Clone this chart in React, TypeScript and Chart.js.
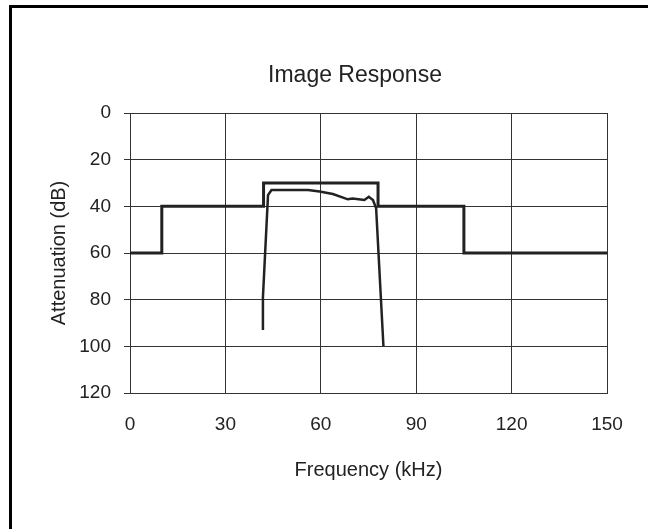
import React, { useEffect, useRef } from "react";
import { Chart, registerables } from "chart.js";

Chart.register(...registerables);

const TITLE = "Image Response";
const X_LABEL = "Frequency (kHz)";
const Y_LABEL = "Attenuation (dB)";

const X_TICKS = [0, 30, 60, 90, 120, 150];
const Y_TICKS = [0, 20, 40, 60, 80, 100, 120];

const maskFreq = [0, 10, 10, 42, 42, 78, 78, 105, 105, 150];
const maskAtten = [60, 60, 40, 40, 30, 30, 40, 40, 60, 60];

const respFreq = [41.8, 41.8, 43.4, 44.5, 56, 59.6, 63.8, 68.5, 70, 73.7, 75.1, 76.4, 77.4, 79.7];
const respAtten = [93, 79, 35.2, 33, 33, 33.6, 34.7, 37, 36.7, 37.3, 35.9, 37.3, 40.8, 100];

const FONT = "'Liberation Sans', Arial, Helvetica, sans-serif";

const titlePlugin = {
  id: "customTitle",
  afterDraw(chart: any) {
    const ctx = chart.ctx;
    ctx.save();
    ctx.font = `23px ${FONT}`;
    ctx.fillStyle = "#222";
    ctx.textAlign = "center";
    ctx.textBaseline = "middle";
    ctx.fillText(TITLE, 355, 76);
    ctx.restore();
  },
};

export default function App() {
  const ref = useRef<HTMLCanvasElement | null>(null);

  useEffect(() => {
    if (!ref.current) return;
    const chart = new Chart(ref.current, {
      type: "scatter",
      data: {
        datasets: [
          {
            label: "Mask",
            data: maskFreq.map((x, i) => ({ x, y: maskAtten[i] })),
            showLine: true,
            borderColor: "#222",
            borderWidth: 3,
            pointRadius: 0,
            tension: 0,
          },
          {
            label: "Response",
            data: respFreq.map((x, i) => ({ x, y: respAtten[i] })),
            showLine: true,
            borderColor: "#222",
            borderWidth: 2.5,
            pointRadius: 0,
            tension: 0,
          },
        ],
      },
      options: {
        animation: false,
        responsive: false,
        layout: { padding: { top: 113, right: 41, left: 0, bottom: 0 } },
        plugins: {
          legend: { display: false },
          tooltip: { enabled: false },
          title: { display: false },
        },
        scales: {
          x: {
            type: "linear",
            min: 0,
            max: 150,
            afterBuildTicks: (s: any) => {
              s.ticks = X_TICKS.map((v) => ({ value: v }));
            },
            afterFit: (s: any) => {
              s.height = 136;
            },
            ticks: {
              font: { family: FONT, size: 19 },
              color: "#222",
              padding: 20,
              maxRotation: 0,
            },
            grid: { color: "#333", lineWidth: 1, drawTicks: false },
            border: { color: "#333", width: 1 },
            title: {
              display: true,
              text: X_LABEL,
              font: { family: FONT, size: 20 },
              color: "#222",
              padding: { top: 0, bottom: 47 },
            },
          },
          y: {
            type: "linear",
            min: 0,
            max: 120,
            reverse: true,
            afterBuildTicks: (s: any) => {
              s.ticks = Y_TICKS.map((v) => ({ value: v }));
            },
            afterFit: (s: any) => {
              s.width = 130;
            },
            ticks: {
              font: { family: FONT, size: 19 },
              color: "#222",
              padding: 13,
            },
            grid: { color: "#333", lineWidth: 1, drawTicks: true, tickLength: 6 },
            border: { color: "#333", width: 1 },
            title: {
              display: true,
              text: Y_LABEL,
              font: { family: FONT, size: 20 },
              color: "#222",
              padding: { top: 47, bottom: 0 },
            },
          },
        },
      },
      plugins: [titlePlugin],
    });
    return () => chart.destroy();
  }, []);

  return (
    <div>
      <div
        style={{
          position: "fixed",
          left: 9,
          top: 5,
          right: 0,
          bottom: 0,
          borderLeft: "3px solid #000",
          borderTop: "3px solid #000",
          boxSizing: "border-box",
        }}
      />
      <canvas
        ref={ref}
        width={648}
        height={529}
        style={{ position: "fixed", left: 0, top: 0, display: "block" }}
      />
    </div>
  );
}
